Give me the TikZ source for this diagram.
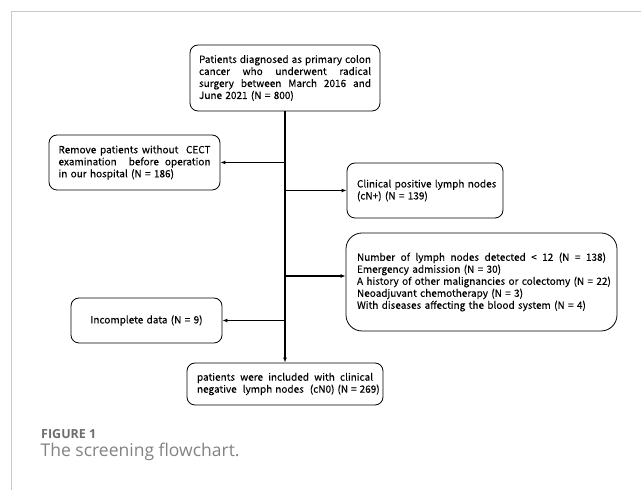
\documentclass[tikz,border=0pt]{standalone}
\usepackage{fontspec}
\newfontfamily\boxfont[FakeBold=0.15]{Noto Sans CJK SC}
\newfontfamily\capfont{Open Sans}
\usetikzlibrary{arrows.meta}
\definecolor{framegray}{RGB}{200,200,200}
\definecolor{figgray}{RGB}{110,110,110}
\definecolor{capgray}{RGB}{130,130,130}
\newcommand\jline[2]{\leavevmode\hbox to #1{\spaceskip=0.3em plus 1fil\relax #2}}
\begin{document}
\begin{tikzpicture}[x=1pt,y=1pt,
  box/.style={draw=black,line width=0.8pt,rounded corners=8pt,inner sep=0pt,
    align=left,font=\boxfont\fontsize{10}{12}\selectfont,anchor=center},
  conn/.style={line width=1.1pt,-{Latex[length=5pt,width=4pt]}},
  captext/.style={anchor=base west,inner sep=0pt}]
\useasboundingbox (0,0) rectangle (641,490);
\draw[framegray,line width=1pt] (11.5,0) -- (11.5,478.5) -- (641,478.5);

\node[box,minimum width=190,minimum height=66,text width=172] (top) at (285,412)
  {\jline{172pt}{Patients diagnosed as primary colon}\\
   \jline{172pt}{cancer who underwent radical}\\
   \jline{172pt}{surgery between March 2016 and}\\
   \mbox{June 2021 (N = 800)}};

\node[box,minimum width=171,minimum height=55,text width=152] (rem) at (134.5,327.5)
  {\jline{152pt}{Remove patients without\ \ CECT}\\
   \jline{152pt}{examination\ \ before operation}\\
   \mbox{in our hospital (N = 186)}};

\node[box,minimum width=156,minimum height=55,text width=136] (cli) at (425,299.5)
  {\mbox{Clinical positive lymph nodes}\\ \mbox{(cN+) (N = 139)}};

\node[box,rounded corners=16pt,minimum width=271,minimum height=98,text width=249] (big) at (481.5,208)
  {\jline{249pt}{Number of lymph nodes detected < 12 (N = 138)}\\
   \mbox{Emergency admission (N = 30)}\\
   \mbox{A history of other malignancies or colectomy (N = 22)}\\
   \mbox{Neoadjuvant chemotherapy (N = 3)}\\
   \mbox{With diseases affecting the blood system (N = 4)}};

\node[box,align=center,minimum width=151,minimum height=45,text width=140] (inc) at (146.5,169.5)
  {Incomplete data (N = 9)};

\node[box,minimum width=196,minimum height=42,text width=176] (bot) at (285,106)
  {\jline{176pt}{patients were included with clinical}\\
   \jline{176pt}{negative\ \ lymph nodes\ \ (cN0) (N = 269)}};

\coordinate (b3) at (285,214);
\draw[conn] (top.south) -- (bot.north);
\draw[conn] (top.south |- rem.east) -- (rem.east);
\draw[conn] (top.south |- cli.west) -- (cli.west);
\draw[conn] (b3) -- (big.west |- b3);
\draw[conn] (top.south |- inc.east) -- (inc.east);

\node[captext,text=figgray,font=\capfont\bfseries\fontsize{12.5}{14}\selectfont] (fig) at (41,51) {FIGURE 1};
\node[captext,text=capgray,font=\capfont\fontsize{17.5}{20}\selectfont] (cap) at (40.5,33) {The screening flowchart.};
\end{tikzpicture}
\end{document}
